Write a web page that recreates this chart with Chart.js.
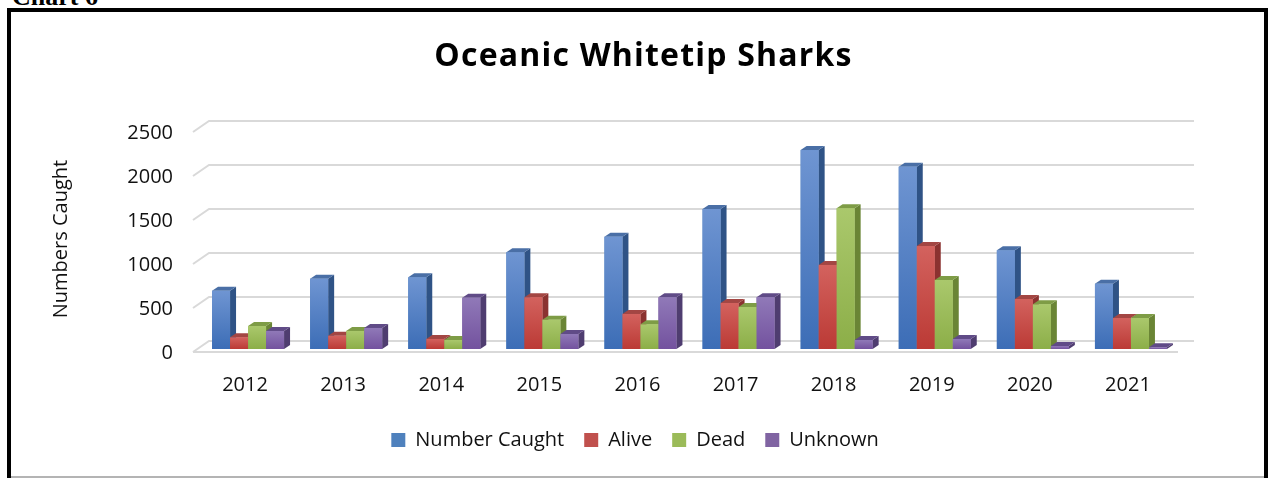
<!DOCTYPE html>
<html>
<head>
<meta charset="utf-8">
<title>Oceanic Whitetip Sharks</title>
<script src="https://cdn.jsdelivr.net/npm/chart.js@4.4.1/dist/chart.umd.min.js"></script>
<style>
  html, body { margin: 0; padding: 0; background: #fff; overflow: hidden; }
  #wrap { position: absolute; left: 0; top: 0; width: 1270px; height: 478px; }
  #caption { position: absolute; left: 12px; top: -18px; line-height: 26px;
             font: bold 26px "Liberation Serif", serif; color: #000; }
  #title { position: absolute; left: 0; width: 1287px; top: 32px; text-align: center;
           font: bold 32px "Open Sans", sans-serif; letter-spacing: 1.2px; color: #000; }
  #frame { position: absolute; left: 7px; top: 8px; width: 1261px; height: 490px;
           border: 4px solid #000; box-sizing: border-box; pointer-events: none; }
  #edge { position: absolute; left: 11px; top: 476px; width: 1253px; height: 2px; background: #b4b4b4; }
</style>
</head>
<body>
<div id="caption">Chart 6</div>
<div id="wrap"><canvas id="sharks"></canvas></div>
<div id="title">Oceanic Whitetip Sharks</div>
<div id="edge"></div>
<div id="frame"></div>
<script>
const years = ['2012', '2013', '2014', '2015', '2016', '2017', '2018', '2019', '2020', '2021'];
const numberCaught = [662, 799, 815, 1099, 1276, 1591, 2261, 2072, 1121, 742];
const alive = [133, 151, 114, 588, 398, 523, 955, 1170, 568, 352];
const dead = [261, 205, 102, 333, 281, 477, 1599, 784, 508, 352];
const unknown = [205, 239, 583, 170, 588, 588, 102, 114, 34, 19];
const yTicks = [0, 500, 1000, 1500, 2000, 2500];

// front gradient light/dark, side and top faces
const shades = [
  { light: '#6f95d2', dark: '#3c6db6', side: '#2f5386', top: '#4a6fa6', solid: '#4f81bd' },
  { light: '#d3625e', dark: '#bb3a35', side: '#8b3230', top: '#a34643', solid: '#c0504d' },
  { light: '#aac86c', dark: '#8cae48', side: '#6a8535', top: '#7e9c46', solid: '#9bbb59' },
  { light: '#9079b8', dark: '#73529e', side: '#4f3d70', top: '#604b87', solid: '#8064a2' },
];

const DX = 6, DY = 4; // bar extrusion

const depth3d = {
  id: 'depth3d',
  beforeDatasetsDraw(chart) {
    const { ctx, chartArea: a, scales: { y } } = chart;
    ctx.save();
    ctx.strokeStyle = '#d9d9d9';
    ctx.lineWidth = 2;
    yTicks.forEach(v => {
      const py = y.getPixelForValue(v);
      ctx.beginPath();
      ctx.moveTo(a.left - 6, py + 3);
      ctx.lineTo(a.left + 10, py - 8);
      ctx.lineTo(a.right + 14, py - 8);
      ctx.stroke();
    });
    const base = y.getPixelForValue(0);
    ctx.beginPath();
    ctx.moveTo(a.left - 6, base + 3);
    ctx.lineTo(a.right - 2, base + 3);
    ctx.stroke();
    ctx.restore();
  },
  afterDatasetsDraw(chart) {
    const { ctx } = chart;
    ctx.save();
    chart.data.datasets.forEach((ds, i) => {
      const c = shades[i];
      chart.getDatasetMeta(i).data.forEach(bar => {
        const { x, y, base, width } = bar.getProps(['x', 'y', 'base', 'width'], true);
        const l = x - width / 2, r = x + width / 2;
        ctx.fillStyle = c.side;
        ctx.beginPath();
        ctx.moveTo(r, y);
        ctx.lineTo(r + DX, y - DY);
        ctx.lineTo(r + DX, base - DY);
        ctx.lineTo(r, base);
        ctx.closePath();
        ctx.fill();
        ctx.fillStyle = c.top;
        ctx.beginPath();
        ctx.moveTo(l, y);
        ctx.lineTo(l + DX, y - DY);
        ctx.lineTo(r + DX, y - DY);
        ctx.lineTo(r, y);
        ctx.closePath();
        ctx.fill();
        const g = ctx.createLinearGradient(0, y, 0, base);
        g.addColorStop(0, c.light);
        g.addColorStop(1, c.dark);
        ctx.fillStyle = g;
        ctx.fillRect(l, y, width, base - y);
      });
    });
    ctx.restore();
  }
};

const font = { family: '"Open Sans", sans-serif', size: 20 };

new Chart(document.getElementById('sharks'), {
  type: 'bar',
  data: {
    labels: years,
    datasets: [
      { label: 'Number Caught', data: numberCaught, backgroundColor: shades[0].solid },
      { label: 'Alive', data: alive, backgroundColor: shades[1].solid },
      { label: 'Dead', data: dead, backgroundColor: shades[2].solid },
      { label: 'Unknown', data: unknown, backgroundColor: shades[3].solid },
    ],
  },
  options: {
    responsive: true,
    maintainAspectRatio: false,
    animation: false,
    layout: { padding: { left: 45, right: 45, top: 129, bottom: 18 } },
    datasets: { bar: { categoryPercentage: 0.734, barPercentage: 1, borderWidth: 0 } },
    plugins: {
      legend: {
        position: 'bottom',
        labels: { font, color: '#111', boxWidth: 14, boxHeight: 14, padding: 20 },
      },
      tooltip: { enabled: false },
    },
    scales: {
      x: {
        grid: { display: false, drawTicks: false },
        border: { display: false },
        ticks: { font, color: '#111', padding: 24, labelOffset: -3 },
        afterFit: s => { s.height = 61; },
      },
      y: {
        min: 0,
        max: 2500,
        grid: { display: false, drawTicks: false },
        border: { display: false },
        ticks: { font, color: '#111', padding: 26, stepSize: 500, labelOffset: 4,
                 callback: v => String(v) },
        title: { display: true, text: 'Numbers Caught', font, color: '#111' },
        afterFit: s => { s.width = 154; },
      },
      y2: {
        position: 'right',
        display: true,
        grid: { display: false, drawTicks: false },
        border: { display: false },
        ticks: { display: false },
        afterFit: s => { s.width = 45; },
      },
    },
  },
  plugins: [depth3d],
});
</script>
</body>
</html>
